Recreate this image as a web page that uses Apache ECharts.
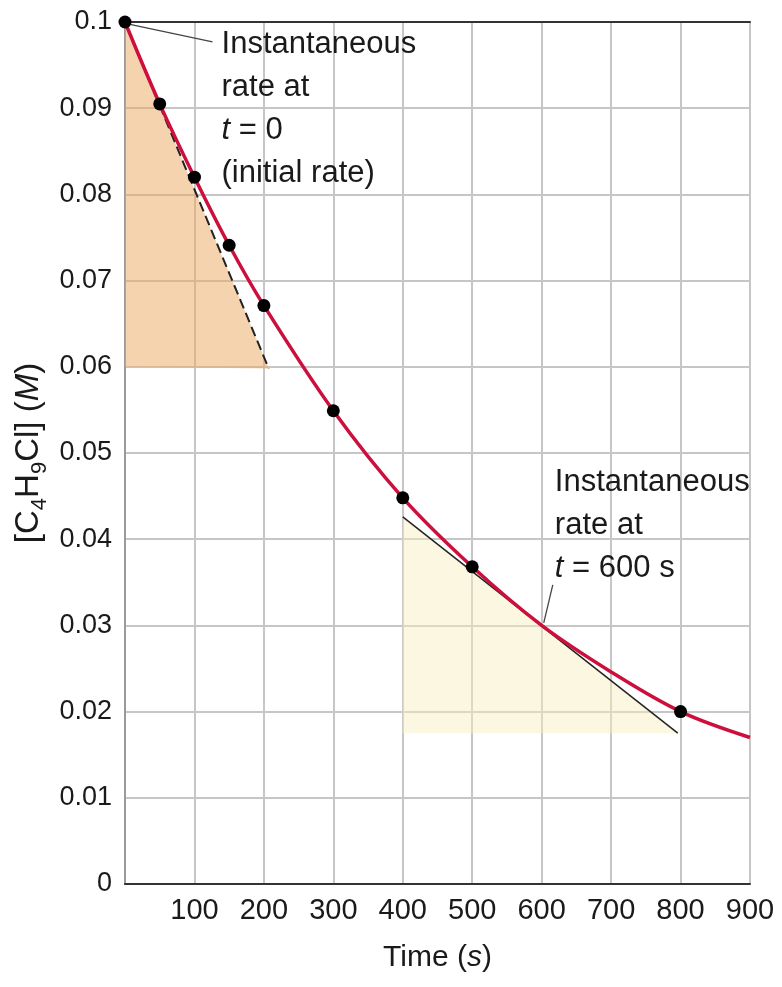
<!DOCTYPE html>
<html>
<head>
<meta charset="utf-8">
<script src="https://cdn.jsdelivr.net/npm/echarts@6/dist/echarts.min.js"></script>
<style>
html,body{margin:0;padding:0;background:#fff;}
#chart{width:782px;height:987px;}
</style>
</head>
<body>
<div id="chart"></div>
<script>
// ---- data ----
const times = [0, 50, 100, 150, 200, 300, 400, 500, 800];
const concentrations = [0.1000, 0.0905, 0.0820, 0.0741, 0.0671, 0.0549, 0.0448, 0.0368, 0.0200];
const curveTimes = [0, 50, 100, 150, 200, 300, 400, 500, 600, 700, 800, 900];
const curveValues = [0.1000, 0.0905, 0.0820, 0.0741, 0.0671, 0.0549, 0.0448, 0.0368, 0.0300, 0.0246, 0.0200, 0.0170];
const tangent0 = [[0, 0.1000], [207, 0.0598]];
const tangent0Base = 0.0600;
const tangent600 = [[400, 0.0426], [796, 0.0175]];
const tangent600Base = 0.0175;
const pointer0 = [[2, 0.0998], [126, 0.0977]];
const pointer600 = [[616, 0.0347], [603, 0.0303]];
const note0Pos = [139, 0.0997];
const note600Pos = [619, 0.0489];
const xTicks = [100, 200, 300, 400, 500, 600, 700, 800, 900];

const FONT = '"Liberation Sans", Arial, Helvetica, sans-serif';
const TXT = '#1a1a1a';
const chart = echarts.init(document.getElementById('chart'));

const axisBase = {
  type: 'value',
  axisTick: { show: false },
  splitLine: { show: true, lineStyle: { color: '#c6c6c6', width: 2 } },
};

chart.setOption({
  animation: false,
  backgroundColor: '#fff',
  grid: { left: 125, top: 22, right: 32, bottom: 103, containLabel: false, outerBoundsMode: 'none' },
  xAxis: [
    Object.assign({}, axisBase, {
      min: 0, max: 900, interval: 100,
      axisLine: { show: true, lineStyle: { color: '#333', width: 2 } },
      axisLabel: {
        fontFamily: FONT, fontSize: 29, color: TXT, margin: 12,
        formatter: v => (xTicks.indexOf(v) >= 0 ? String(v) : '')
      },
      name: 'Time ({i|s})',
      nameLocation: 'middle', nameGap: 59,
      nameTextStyle: {
        fontFamily: FONT, fontSize: 30, color: TXT,
        rich: { i: { fontFamily: FONT, fontSize: 30, fontStyle: 'italic', color: TXT } }
      }
    }),
    {
      type: 'value', position: 'top', min: 0, max: 900, interval: 100,
      axisLine: { show: true, onZero: false, lineStyle: { color: '#333', width: 2 } },
      axisTick: { show: false }, axisLabel: { show: false }, splitLine: { show: false }
    }
  ],
  yAxis: [
    Object.assign({}, axisBase, {
      min: 0, max: 0.1, interval: 0.01,
      axisLine: { show: true, lineStyle: { color: '#333', width: 2 } },
      axisLabel: { fontFamily: FONT, fontSize: 27, color: TXT, margin: 13 },
      name: '[C{sub|4}H{sub|9}Cl] ({i|M})',
      nameLocation: 'middle', nameGap: 74, nameRotate: 90, nameMoveOverlap: false,
      nameTextStyle: {
        fontFamily: FONT, fontSize: 33, color: TXT,
        rich: {
          sub: { fontFamily: FONT, fontSize: 22, color: TXT, verticalAlign: 'bottom', lineHeight: 44, padding: [12, 0, 0, 0] },
          i: { fontFamily: FONT, fontSize: 33, fontStyle: 'italic', color: TXT }
        }
      }
    }),
    {
      type: 'value', position: 'right', min: 0, max: 0.1, interval: 0.01,
      axisLine: { show: true, lineStyle: { color: '#9a9a9a', width: 2 } },
      axisTick: { show: false }, axisLabel: { show: false }, splitLine: { show: false }
    }
  ],
  series: [
    {
      type: 'line', data: tangent0, symbol: 'none',
      lineStyle: { color: '#222', width: 2, type: [10, 5] },
      areaStyle: { color: 'rgba(238, 168, 96, 0.72)', origin: tangent0Base },
      z: 1
    },
    {
      type: 'line', data: tangent600, symbol: 'none',
      lineStyle: { color: '#222', width: 1.5 },
      areaStyle: { color: 'rgba(248, 238, 190, 0.65)', origin: tangent600Base },
      z: 1
    },
    {
      type: 'line', data: curveTimes.map((t, i) => [t, curveValues[i]]),
      smooth: 0.35, symbol: 'none',
      lineStyle: { color: '#cc0f3c', width: 3.5 },
      z: 3
    },
    {
      type: 'scatter', data: times.map((t, i) => [t, concentrations[i]]),
      symbolSize: 13, itemStyle: { color: '#000', opacity: 1 }, z: 4, clip: false
    },
    {
      type: 'line', data: pointer0, symbol: 'none',
      lineStyle: { color: '#444', width: 1.3 }, z: 2
    },
    {
      type: 'line', data: pointer600, symbol: 'none',
      lineStyle: { color: '#444', width: 1.3 }, z: 2
    },
    {
      type: 'scatter', symbolSize: 0, z: 5, clip: false, silent: true,
      itemStyle: { opacity: 1 },
      data: [
        { value: note0Pos, label: { formatter: 'Instantaneous\nrate at\n{i|t} = 0\n(initial rate)' } },
        { value: note600Pos, label: { formatter: 'Instantaneous\nrate at\n{i|t} = 600 s' } }
      ],
      label: {
        show: true, position: [0, -2], align: 'left', verticalAlign: 'top',
        fontFamily: FONT, fontSize: 31, lineHeight: 43, color: TXT, opacity: 1,
        rich: { i: { fontFamily: FONT, fontSize: 31, lineHeight: 43, fontStyle: 'italic', color: TXT } }
      }
    }
  ]
});
</script>
</body>
</html>
